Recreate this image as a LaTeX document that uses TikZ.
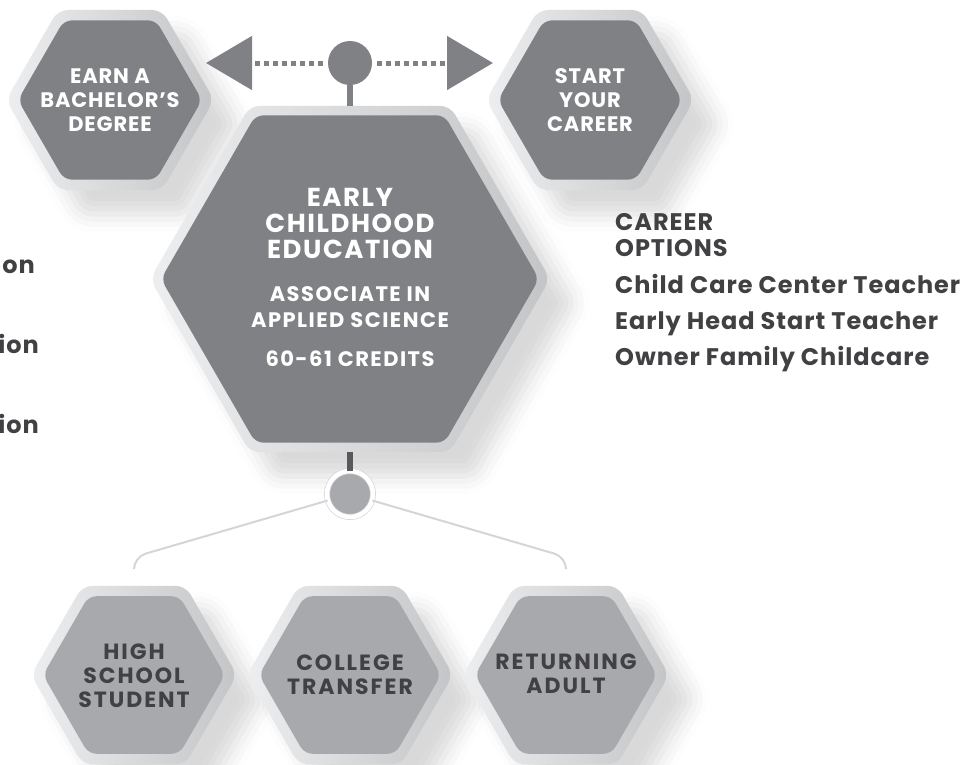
\documentclass[tikz,border=0pt]{standalone}
\usepackage{fontspec}
\setmainfont{Poppins}
\usetikzlibrary{shapes.geometric,arrows.meta,shadows.blur,positioning}

\definecolor{hexdark}{HTML}{808184}
\definecolor{hexpale}{HTML}{A7A9AC}
\definecolor{rimlight}{HTML}{EDEEEF}
\definecolor{rimdark}{HTML}{C4C5C7}
\definecolor{branchgray}{HTML}{D4D5D6}
\definecolor{inkgray}{HTML}{414042}
\definecolor{stubgray}{HTML}{58595B}

\newcommand\tracked[3]{\fontsize{#1}{#2}\bfseries\addfontfeature{LetterSpace=#3}}

\tikzset{
	hexrim/.style={regular polygon, regular polygon sides=6, inner sep=0pt, rounded corners=10pt,
		left color=rimlight, right color=rimdark,
		blur shadow={shadow xshift=24pt, shadow yshift=-24pt, shadow blur radius=18pt, shadow opacity=15}},
	hexcore/.style={regular polygon, regular polygon sides=6, inner sep=0pt, rounded corners=8pt, fill=#1},
	hexcore/.default=hexdark,
	hexlabel/.style={align=center, inner sep=0pt, text=white, font=\tracked{21}{24}{4}},
	hexlabeldark/.style={hexlabel, text=inkgray, font=\tracked{22}{24}{9}},
	hubdot/.style={circle, fill=hexdark, minimum size=44pt, inner sep=0pt},
	feederdot/.style={circle, fill=hexpale, draw=branchgray, line width=0.7pt, double=white,
		double distance=4.5pt, minimum size=46pt, inner sep=0pt},
	pathlink/.style={hexdark, line width=5pt, dash pattern=on 5pt off 4pt, shorten <=5pt,
		-{Triangle[length=46pt, width=53pt]}},
	stubline/.style={line width=6pt, draw=#1},
	branch/.style={branchgray, line width=2pt, rounded corners=12pt},
	sidetext/.style={inner sep=0pt, text=inkgray, font=\tracked{24}{26}{4}}
}

\begin{document}
\begin{tikzpicture}[x=1pt, y=-1pt]
	\useasboundingbox (0,0) rectangle (971,764);

	\node[hexrim, minimum size=208pt] (bachrim) at (110,100) {};
	\node[hexcore, minimum size=184pt] (bach) at (110,100) {};
	\node[hexlabel] (bachtext) at (110,100) {EARN A\\BACHELOR’S\\DEGREE};

	\node[hexrim, minimum size=208pt] (careerrim) at (590,100) {};
	\node[hexcore, minimum size=184pt] (career) at (590,100) {};
	\node[hexlabel] (careertext) at (590,100) {START\\YOUR\\CAREER};

	\node[hexrim, minimum size=400pt] (ecerim) at (350,279) {};
	\node[hexcore, minimum size=378pt] (ece) at (350,279) {};
	\node[hexlabel, font=\tracked{26}{26}{6}] (ecetitle) at (350,223) {EARLY\\CHILDHOOD\\EDUCATION};
	\node[hexlabel, font=\tracked{21}{26}{7}] (ecedegree) at (350,307) {ASSOCIATE IN\\APPLIED SCIENCE};
	\node[hexlabel, font=\tracked{21}{26}{7}] (ececredits) at (350,359) {60-61 CREDITS};

	\node[hubdot] (hub) at (350,63) {};
	\coordinate (bachtip) at (206,63);
	\coordinate (careertip) at (493,63);
	\draw[pathlink] (hub) -- (bachtip);
	\draw[pathlink] (hub) -- (careertip);
	\draw[stubline=hexdark] (hub) -- (ecerim);

	\node[hexrim, minimum size=206pt] (hsrim) at (134,675) {};
	\node[hexcore=hexpale, minimum size=182pt] (hs) at (134,675) {};
	\node[hexlabeldark] (hstext) at (134,676) {HIGH\\SCHOOL\\STUDENT};

	\node[hexrim, minimum size=206pt] (ctrim) at (350,675) {};
	\node[hexcore=hexpale, minimum size=182pt] (ct) at (350,675) {};
	\node[hexlabeldark] (cttext) at (350,675) {COLLEGE\\TRANSFER};

	\node[hexrim, minimum size=206pt] (rarim) at (566,675) {};
	\node[hexcore=hexpale, minimum size=182pt] (ra) at (566,675) {};
	\node[hexlabeldark] (ratext) at (566,674) {RETURNING\\ADULT};

	\coordinate (hsbend) at (134,557);
	\coordinate (hstop) at (134,568);
	\coordinate (rabend) at (566,557);
	\coordinate (ratop) at (566,568);
	\node[feederdot] (feeder) at (350,494) {};
	\draw[branch] (feeder) -- (hsbend) -- (hstop);
	\draw[branch] (feeder) -- (rabend) -- (ratop);
	\draw[stubline=stubgray] (ecerim) -- (feeder);

	\node[sidetext, anchor=base west] (opthead1) at (615,230) {CAREER};
	\node[sidetext, anchor=base west] (opthead2) at (615,256.5) {OPTIONS};
	\node[sidetext, anchor=base west] (opt1) at (615,293) {Child Care Center Teacher};
	\node[sidetext, anchor=base west] (opt2) at (615,329) {Early Head Start Teacher};
	\node[sidetext, anchor=base west] (opt3) at (615,365) {Owner Family Childcare};

	\node[sidetext, anchor=base east] (cut1) at (35,273) {on};
	\node[sidetext, anchor=base east] (cut2) at (39,353) {ion};
	\node[sidetext, anchor=base east] (cut3) at (39,433) {ion};
\end{tikzpicture}
\end{document}
